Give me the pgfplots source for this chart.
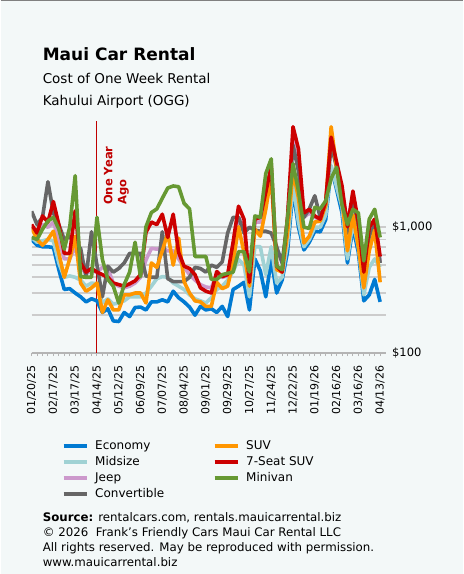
\documentclass[border=0pt]{standalone}
\usepackage{pgfplots}
\pgfplotsset{compat=1.18}
\usepackage{pgfplotstable}
\usepackage{fontspec}
\setmainfont{DejaVu Sans}

\definecolor{bg}{RGB}{243,248,248}
\definecolor{econ}{RGB}{0,122,210}
\definecolor{mid}{RGB}{160,210,212}
\definecolor{jeep}{RGB}{204,153,204}
\definecolor{conv}{RGB}{102,102,102}
\definecolor{suv}{RGB}{255,150,0}
\definecolor{seven}{RGB}{204,0,0}
\definecolor{mini}{RGB}{102,153,51}
\definecolor{gridc}{RGB}{204,204,204}
\definecolor{axisc}{RGB}{180,180,180}
\definecolor{agored}{RGB}{192,0,0}

% weekly cost of a one-week rental, weeks counted from 01/20/25
\pgfplotstableread{
w  econ mid  jeep conv suv  seven mini
0  800  830  1000 1340 1000 1050  830
1  720  760  880  1050 800  900   800
2  700  780  1050 1200 720  1230  965
3  700  800  1000 2300 800  1100  1120
4  690  780  1100 1300 930  1600  1200
5  460  520  800  1050 620  1050  965
6  320  400  560  800  400  620   670
7  325  410  560  850  560  620   1000
8  300  400  700  720  850  1350  2570
9  280  380  480  680  360  520   405
10 255  340  430  400  310  440   400
11 270  360  450  920  330  470   400
12 260  355  440  500  360  440   1200
13 210  250  480  280  210  420   555
14 225  270  470  490  265  400   385
15 180  245  360  440  220  360   340
16 178  250  340  470  220  350   250
17 210  260  330  520  290  340   350
18 195  280  340  620  290  355   440
19 230  280  360  620  300  375   760
20 232  280  400  620  300  420   405
21 220  300  550  410  250  910   1010
22 255  340  680  400  520  1100  1310
23 255  390  670  400  480  1050  1400
24 265  405  680  920  650  1270  1700
25 255  400  650  390  900  830   2050
26 310  360  650  370  500  1270  2130
27 275  340  560  370  820  630   2100
28 255  320  480  370  370  490   1550
29 232  290  420  400  300  470   1400
30 200  270  380  480  260  420   585
31 235  260  350  470  255  330   585
32 220  250  335  440  235  310   585
33 225  275  330  500  235  300   385
34 210  320  420  480  365  445   385
35 235  340  400  530  325  405   420
36 195  380  410  900  340  420   430
37 320  445  700  1200 525  760   440
38 340  555  1200 1200 1010 1470  640
39 365  500  1000 900  630  1160  640
40 220  280  360  1000 340  365   440
41 560  700  1100 950  965  1160  1230
42 450  700  1100 930  850  1200  1200
43 280  420  1700 930  1390 1900  2670
44 555  700  2800 900  2570 3070  3500
45 300  360  480  700  460  490   490
46 380  400  440  520  440  440   460
47 640  750  1100 1150 900  1200  1200
48 2000 2200 5000 4500 2800 6300  3200
49 1000 1100 3000 2800 1700 4200  1940
50 660  700  1200 1200 750  1300  1000
51 760  800  1300 1400 850  1390  980
52 930  1000 1200 1780 1100 1230  1440
53 920  1000 1150 1200 1120 1160  1400
54 1150 1250 1550 1500 1500 1600  1620
55 3000 3100 5000 4500 6300 5200  2440
56 2000 2100 3200 3000 3000 3300  3000
57 1300 1450 2000 1900 1670 2130  1500
58 520  560  1000 900  650  1010  1050
59 1000 1100 1800 1600 1250 1940  1390
60 630  700  1050 1000 700  1100  1300
61 260  290  450  420  330  440   540
62 290  480  880  850  650  1000  1160
63 385  560  1100 1050 950  1160  1390
64 255  480  535  520  365  585   830
}\rates

\begin{document}
\begin{tikzpicture}[x=1pt,y=1pt]
% page background and top rule
\fill[bg] (0,0) rectangle (462,-574);
\draw[gray, line width=1.2pt] (0,-0.6) -- (462,-0.6);

% headings
\node[anchor=base west, inner sep=0pt, font=\fontsize{17}{20}\selectfont\bfseries] at (42,-60) {Maui Car Rental};
\node[anchor=base west, inner sep=0pt, font=\fontsize{13.5}{16}\selectfont] at (42,-83) {Cost of One Week Rental};
\node[anchor=base west, inner sep=0pt, font=\fontsize{13.5}{16}\selectfont] at (42,-105) {Kahului Airport (OGG)};

\begin{axis}[
  at={(31pt,-353pt)}, anchor=south west,
  scale only axis, width=354pt, height=232pt,
  xmin=0, xmax=65,
  ymode=log, ymin=100, ymax=7000,
  axis x line*=bottom, axis y line*=right,
  y axis line style={draw=none},
  x axis line style={axisc, line width=2pt},
  xtick={0,4,...,64},
  xticklabels={01/20/25,02/17/25,03/17/25,04/14/25,05/12/25,06/09/25,07/07/25,08/04/25,09/01/25,09/29/25,10/27/25,11/24/25,12/22/25,01/19/26,02/16/26,03/16/26,04/13/26},
  minor x tick num=3,
  tick align=outside, major tick length=3pt, minor tick length=3pt,
  x tick style={axisc, line width=1pt},
  y tick style={draw=none},
  xticklabel shift=6pt,
  xticklabel style={rotate=90, anchor=east, font=\fontsize{11}{13}\selectfont},
  ytick={100,1000}, yticklabels={{\$100},{\$1,000}},
  yticklabel style={anchor=west, font=\fontsize{11.5}{13}\selectfont},
  ymajorgrids, yminorgrids,
  major grid style={gridc, line width=1.6pt},
  minor grid style={gridc, line width=1.6pt},
  /pgf/number format/assume math mode=true,
  legend columns=2,
  legend cell align=left,
  legend image code/.code={\draw[#1] (0pt,0pt) -- (23pt,0pt);},
  legend style={at={(axis description cs:0.076,-0.362)}, anchor=north west,
    draw=none, fill=none, font=\fontsize{12}{14}\selectfont,
    nodes={inner sep=1.5pt, text height=9pt, text depth=2.5pt}, row sep=1.5pt},
]
% one year ago marker
\addplot[agored, line width=1pt, forget plot] coordinates {(12,100) (12,7000)};

\addplot[econ,  line width=3.6pt, line join=round, forget plot] table[x=w,y=econ]{\rates};
\addplot[mid,   line width=3.6pt, line join=round, forget plot] table[x=w,y=mid]{\rates};
\addplot[jeep,  line width=3.6pt, line join=round, forget plot] table[x=w,y=jeep]{\rates};
\addplot[conv,  line width=3.6pt, line join=round, forget plot] table[x=w,y=conv]{\rates};
\addplot[suv,   line width=3.6pt, line join=round, forget plot] table[x=w,y=suv]{\rates};
\addplot[seven, line width=3.6pt, line join=round, forget plot] table[x=w,y=seven]{\rates};
\addplot[mini,  line width=3.6pt, line join=round, forget plot] table[x=w,y=mini]{\rates};

\addlegendimage{econ, line width=4pt}  \addlegendentry{\hspace{5pt}\makebox[116pt][l]{Economy}}
\addlegendimage{suv, line width=4pt}   \addlegendentry{\hspace{5pt}SUV}
\addlegendimage{mid, line width=4pt}   \addlegendentry{\hspace{5pt}\makebox[116pt][l]{Midsize}}
\addlegendimage{seven, line width=4pt} \addlegendentry{\hspace{5pt}7-Seat SUV}
\addlegendimage{jeep, line width=4pt}  \addlegendentry{\hspace{5pt}\makebox[116pt][l]{Jeep}}
\addlegendimage{mini, line width=4pt}  \addlegendentry{\hspace{5pt}Minivan}
\addlegendimage{conv, line width=4pt}  \addlegendentry{\hspace{5pt}\makebox[116pt][l]{Convertible}}
\end{axis}

% label of the one-year-ago marker
\node[anchor=north west, rotate=90, align=left, inner sep=0pt, text=agored,
  font=\fontsize{11.5}{14}\selectfont\bfseries] at (103,-205) {One Year\\Ago};

% source and copyright
\begin{scope}[every node/.style={anchor=base west, inner sep=0pt, font=\fontsize{11.8}{14}\selectfont}]
\node at (42,-521) {\textbf{Source:} rentalcars.com, rentals.mauicarrental.biz};
\node at (42,-536) {© 2026\ \ Frank's Friendly Cars Maui Car Rental LLC};
\node at (42,-551) {All rights reserved. May be reproduced with permission.};
\node at (42,-566) {www.mauicarrental.biz};
\end{scope}
\end{tikzpicture}
\end{document}
